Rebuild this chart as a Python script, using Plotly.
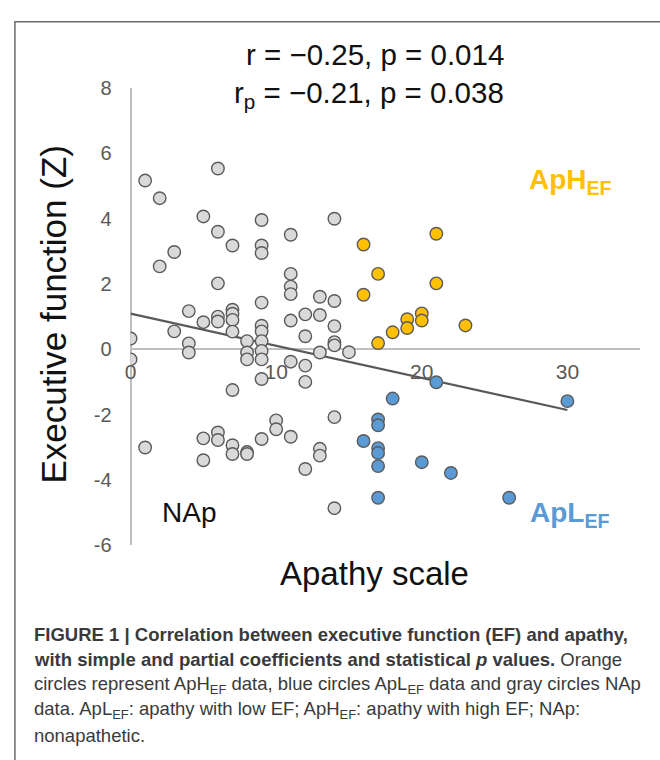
import plotly.graph_objects as go

W, H = 660, 760

# ---------------- data ----------------
nap_x = [1, 2, 6, 5, 6, 7, 9, 9, 9, 11, 14, 3, 2, 6, 11, 11, 11, 9, 13, 14,
         4, 7, 7, 7, 6, 6, 5, 3, 7, 0, 4, 4, 0, 8, 8, 8, 9, 9, 9, 9, 9,
         11, 12, 13, 12, 14, 14, 14, 13, 15, 11, 12,
         12, 9, 7, 14, 10, 10, 11, 9, 6, 6, 5, 7, 7, 8, 8, 1, 5, 12, 13, 13, 14]
nap_y = [5.17, 4.63, 5.54, 4.07, 3.6, 3.18, 3.96, 3.18, 2.95, 3.51, 4.0, 2.98, 2.54, 2.02, 2.31, 1.92, 1.69, 1.43, 1.61, 1.48,
         1.17, 1.21, 1.09, 0.9, 1.0, 0.85, 0.83, 0.55, 0.54, 0.33, 0.18, -0.1, -0.31, 0.25, -0.1, -0.31, 0.72, 0.55, 0.25, -0.05, -0.31,
         0.88, 1.07, 1.05, 0.4, 0.71, 0.22, 0.12, -0.1, -0.09, -0.38, -0.5,
         -1.0, -0.91, -1.25, -2.08, -2.18, -2.45, -2.68, -2.75, -2.55, -2.78, -2.73, -2.94, -3.21, -3.15, -3.21, -3.01, -3.4, -3.67, -3.05, -3.26, -4.87]

aph_x = [16, 21, 17, 16, 21, 20, 20, 19, 19, 18, 17, 23]
aph_y = [3.21, 3.54, 2.31, 1.67, 2.02, 1.1, 0.88, 0.92, 0.65, 0.52, 0.19, 0.73]

apl_x = [21, 30, 18, 17, 17, 16, 17, 17, 17, 17, 20, 22, 26]
apl_y = [-1.01, -1.59, -1.51, -2.15, -2.33, -2.81, -3.03, -3.18, -3.58, -4.55, -3.46, -3.79, -4.55]

trend_x = [0, 30]
trend_y = [1.09, -1.86]

x_ticks = [0, 10, 20, 30]
y_ticks = [-6, -4, -2, 0, 2, 4, 6, 8]
y_tick_labels = ["-6", "-4", "-2", "0", "2", "4", "6", "8"]

stat_lines = ["r = \u22120.25, p = 0.014", "r<sub>p</sub> = \u22120.21, p = 0.038"]
group_labels = ["ApH<sub>EF</sub>", "ApL<sub>EF</sub>", "NAp"]
caption_lines = [
    "<b>FIGURE 1 | Correlation between executive function (EF) and apathy,</b>",
    "<b>with simple and partial coefficients and statistical <i>p</i> values.</b> Orange",
    "circles represent ApH<sub>EF</sub> data, blue circles ApL<sub>EF</sub> data and gray circles NAp",
    "data. ApL<sub>EF</sub>: apathy with low EF; ApH<sub>EF</sub>: apathy with high EF; NAp:",
    "nonapathetic.",
]

# ---------------- helpers ----------------
def px(x):
    return x / W

def py(y):
    return 1 - y / H

FONT = "Arial, 'Liberation Sans', sans-serif"
OUTLINE = "#5a5a5a"

fig = go.Figure()

fig.add_trace(go.Scatter(x=trend_x, y=trend_y, mode="lines",
                         line=dict(color="#595959", width=2.2), hoverinfo="skip"))
marker_common = dict(size=12.5, line=dict(color=OUTLINE, width=1.4))
fig.add_trace(go.Scatter(x=nap_x, y=nap_y, mode="markers",
                         marker=dict(color="#d9d9d9", **marker_common)))
fig.add_trace(go.Scatter(x=aph_x, y=aph_y, mode="markers",
                         marker=dict(color="#ffc000", **marker_common)))
fig.add_trace(go.Scatter(x=apl_x, y=apl_y, mode="markers",
                         marker=dict(color="#5b9bd5", **marker_common)))

fig.update_layout(
    width=W, height=H,
    margin=dict(l=0, r=0, t=0, b=0),
    paper_bgcolor="white", plot_bgcolor="white",
    showlegend=False,
    font=dict(family=FONT),
    xaxis=dict(
        domain=[px(125.7), px(640)], range=[0, 35],
        anchor="free", position=py(348.5),
        tickvals=x_ticks, ticktext=[str(v) for v in x_ticks],
        showgrid=False, showline=False, ticks="",
        zeroline=True, zerolinecolor="#bfbfbf", zerolinewidth=1.5,
        tickfont=dict(size=21, color="#595959"),
        ticklabelstandoff=8,
        layer="below traces",
    ),
    yaxis=dict(
        domain=[py(550), py(79.5)], range=[-6, 8],
        tickvals=y_ticks, ticktext=y_tick_labels,
        showgrid=False, showline=False, ticks="",
        zeroline=True, zerolinecolor="#bfbfbf", zerolinewidth=1.5,
        tickfont=dict(size=20, color="#595959"),
        ticklabelstandoff=18,
        layer="below traces",
    ),
)

# frame
fig.add_shape(type="rect", xref="paper", yref="paper",
              x0=px(9), x1=px(700), y0=py(800), y1=py(11),
              line=dict(color="#6b6b6b", width=1.5), fillcolor="rgba(0,0,0,0)")

ann = []
# statistics
ann.append(dict(text=stat_lines[0], x=px(505), y=py(45), xanchor="right", yanchor="middle",
                font=dict(size=29.5, color="#111111")))
ann.append(dict(text=stat_lines[1], x=px(505), y=py(86), xanchor="right", yanchor="middle",
                font=dict(size=29.5, color="#111111")))
# group labels
ann.append(dict(text="<b>" + group_labels[0] + "</b>", x=px(526), y=py(176), xanchor="left", yanchor="middle",
                font=dict(size=28, color="#ffc000")))
ann.append(dict(text="<b>" + group_labels[1] + "</b>", x=px(527), y=py(518), xanchor="left", yanchor="middle",
                font=dict(size=28, color="#5b9bd5")))
ann.append(dict(text=group_labels[2], x=px(155), y=py(516), xanchor="left", yanchor="middle",
                font=dict(size=28, color="#111111")))
# axis titles
ann.append(dict(text="Executive function (Z)", x=px(48), y=py(313), xanchor="center", yanchor="middle",
                textangle=-90, font=dict(size=35, color="#111111")))
ann.append(dict(text="Apathy scale", x=px(372), y=py(579), xanchor="center", yanchor="middle",
                font=dict(size=33, color="#111111")))
# caption
cap_y = [642, 668, 694, 720, 746]
for t, yy in zip(caption_lines, cap_y):
    ann.append(dict(text=t, x=px(26), y=py(yy), xanchor="left", yanchor="middle",
                    font=dict(size=18.5, color="#3a3a3a")))

for a in ann:
    a.update(xref="paper", yref="paper", showarrow=False)
fig.update_layout(annotations=ann)

fig.write_html(
    "out.html",
    config={"displayModeBar": False},
    post_script="document.body.style.margin='0';document.body.style.overflow='hidden';",
)
